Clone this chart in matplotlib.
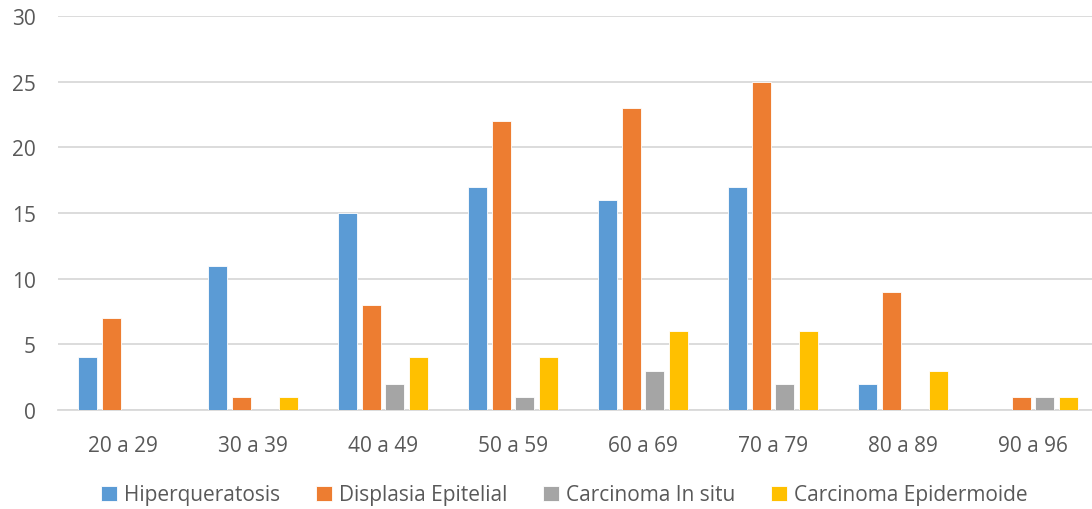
import matplotlib
matplotlib.use("Agg")
import matplotlib.pyplot as plt
import numpy as np

categories = ["20 a 29", "30 a 39", "40 a 49", "50 a 59", "60 a 69", "70 a 79", "80 a 89", "90 a 96"]
hiperqueratosis = [4, 11, 15, 17, 16, 17, 2, 0]
displasia = [7, 1, 8, 22, 23, 25, 9, 1]
carcinoma_in_situ = [0, 0, 2, 1, 3, 2, 0, 1]
carcinoma_epidermoide = [0, 1, 4, 4, 6, 6, 3, 1]
series_names = ["Hiperqueratosis", "Displasia Epitelial", "Carcinoma In situ", "Carcinoma Epidermoide"]
y_ticks = [0, 5, 10, 15, 20, 25, 30]

series = [hiperqueratosis, displasia, carcinoma_in_situ, carcinoma_epidermoide]
colors = ["#5B9BD5", "#ED7D31", "#A5A5A5", "#FFC000"]
text_color = "#595959"

plt.rcParams["font.family"] = ["Open Sans", "DejaVu Sans"]

fig = plt.figure(figsize=(10.92, 5.10), dpi=100)
ax = fig.add_axes([58 / 1092, 99 / 510, 1040 / 1092, 394 / 510])

x = np.arange(len(categories))
step = 0.181
width = 0.148
for i, (vals, name, c) in enumerate(zip(series, series_names, colors)):
    ax.bar(x + (i - 1.5) * step, vals, width=width, color=c, label=name,
           edgecolor="white", linewidth=0.6, zorder=3)

ax.set_xlim(-0.5, len(categories) - 0.5)
ax.set_ylim(0, 30)
ax.set_yticks(y_ticks)
ax.set_xticks(x)
ax.set_xticklabels(categories)
ax.grid(axis="y", color="#D9D9D9", linewidth=1.3, zorder=0)
ax.set_axisbelow(True)
for s in ["top", "right", "left"]:
    ax.spines[s].set_visible(False)
ax.spines["bottom"].set_color("#D9D9D9")
ax.spines["bottom"].set_linewidth(1.3)
ax.tick_params(axis="both", length=0, labelsize=15, colors=text_color)
ax.tick_params(axis="y", pad=16)
ax.tick_params(axis="x", pad=18)

handles, labels = ax.get_legend_handles_labels()
leg = fig.legend(handles, labels, loc="center", bbox_to_anchor=(0.517, 14 / 510),
                 ncol=4, frameon=False, fontsize=15, handlelength=0.75, handleheight=0.75,
                 handletextpad=0.35, columnspacing=1.72)
for t in leg.get_texts():
    t.set_color(text_color)

fig.savefig("out.png", dpi=100)
